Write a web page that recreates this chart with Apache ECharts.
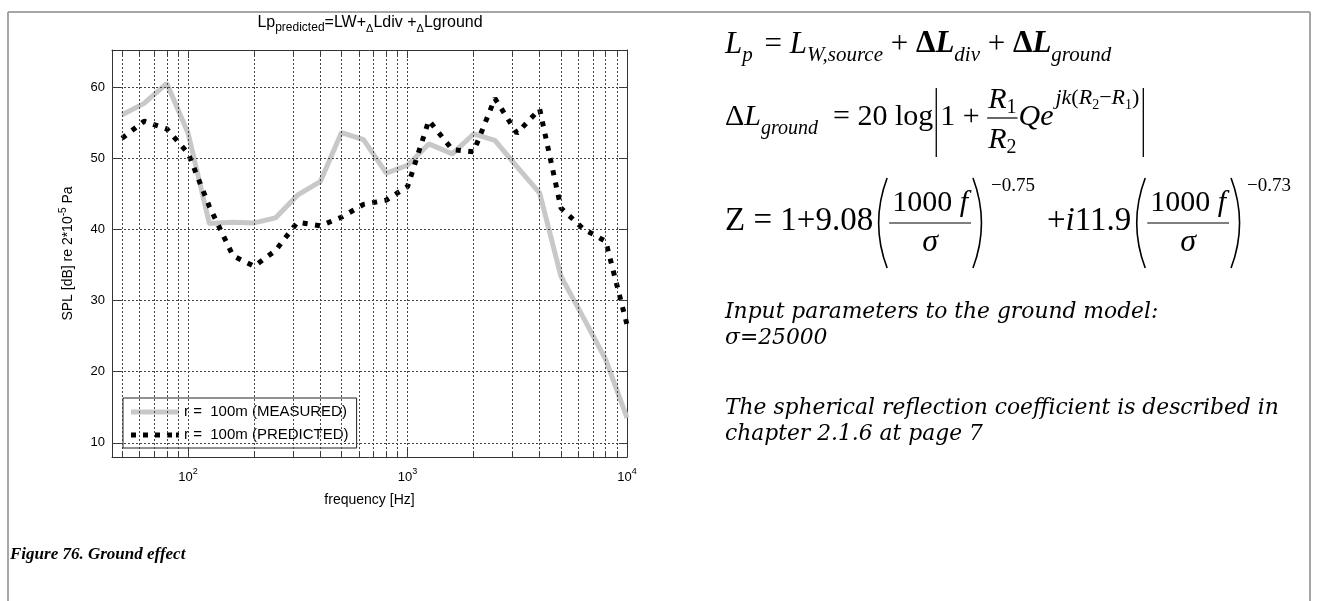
<!DOCTYPE html>
<html><head><meta charset="utf-8">
<script src="https://cdn.jsdelivr.net/npm/echarts@6/dist/echarts.min.js"></script>
<style>html,body{margin:0;padding:0;background:#fff}#c{width:1319px;height:601px}</style>
</head><body><div id="c"></div>
<script>
// ---------- data ----------
const freqs = [50,63,80,100,125,160,200,250,315,400,500,630,800,1000,1250,1600,2000,2500,3150,4000,5000,6300,8000,10000];
const measured = [56.1,57.7,60.5,53.5,40.8,41.0,40.9,41.6,44.8,46.7,53.6,52.6,47.9,49.0,52.0,50.6,53.4,52.5,48.8,45.1,33.4,27.7,21.7,13.5];
const predicted = [52.8,55.2,54.1,50.7,43.2,36.3,34.8,37.0,41.0,40.5,41.7,43.5,44.1,46.0,55.3,51.2,50.9,58.4,53.5,56.9,43.0,40.1,38.3,26.6];
const yTicks = [10,20,30,40,50,60];
const xMajor = [100,1000,10000];
const xMinor = [50,60,70,80,90,200,300,400,500,600,700,800,900,2000,3000,4000,5000,6000,7000,8000,9000];
const nameMeasured = 'r =  100m (MEASURED)';
const namePredicted = 'r =  100m (PREDICTED)';

// ---------- helpers ----------
const SANS = '"Liberation Sans", Arial, Helvetica, sans-serif';
const SERIF = '"Liberation Serif", "Times New Roman", serif';
const DSERIF = '"DejaVu Serif", serif';
const mctx = document.createElement('canvas').getContext('2d');
function fontStr(t){ return (t.it?'italic ':'') + (t.b?'bold ':'') + t.s + 'px ' + (t.fam||SERIF); }
function tw(t){ mctx.font = fontStr(t); return mctx.measureText(t.t).width; }
function widthOf(toks){ let s=0; toks.forEach(t=>{ s += t.gap ? t.gap : tw(t); }); return s; }
function run(x, base, toks, out){
  toks.forEach(t => {
    if (t.gap) { x += t.gap; return; }
    const f = fontStr(t);
    const B = base + (t.dy||0);
    out.push({type:'text', silent:true, style:{text:t.t, x:x, y:B - 0.34*t.s, font:f, fill:'#000',
      textAlign:'left', textVerticalAlign:'middle', align:'left', verticalAlign:'middle'}});
    x += tw(t);
  });
  return x;
}
function hline(x1,y1,x2,y2,out,lw,col){ out.push({type:'line', silent:true, shape:{x1,y1,x2,y2}, style:{stroke:col||'#000', lineWidth:lw||1.2}}); }
function frac(x, num, den, barY, numB, denB, pad, out){
  const wn = widthOf(num), wd = widthOf(den);
  const W = Math.max(wn, wd) + 2*pad;
  run(x + (W-wn)/2, numB, num, out);
  run(x + (W-wd)/2, denB, den, out);
  hline(x, barY, x+W, barY, out, 1.2);
  return x + W;
}
function paren(x, top, bot, open, out){
  const mid = (top+bot)/2;
  if (open) out.push({type:'bezierCurve', silent:true, shape:{x1:x+12, y1:top, x2:x+12, y2:bot, cpx1:x-5, cpy1:mid}, style:{stroke:'#000', lineWidth:1.6, fill:null}});
  else out.push({type:'bezierCurve', silent:true, shape:{x1:x+2, y1:top, x2:x+2, y2:bot, cpx1:x+19, cpy1:mid}, style:{stroke:'#000', lineWidth:1.6, fill:null}});
  return x + 14;
}

// ---------- page graphics ----------
const els = [];
hline(8, 12, 1310, 12, els, 2, '#a6a6a6');
hline(8, 12, 8, 601, els, 2, '#a6a6a6');
hline(1310, 12, 1310, 601, els, 2, '#a6a6a6');

const X0 = 725;
run(X0, 55, [
  {t:'L',it:1,s:31},{t:'p',it:1,s:21,dy:8},{gap:4},{t:' = ',s:31},{t:'L',it:1,s:31},{t:'W,source',it:1,s:21,dy:8},
  {t:' + ',s:31},{t:'Δ',b:1,s:31},{t:'L',b:1,it:1,s:31},{t:'div',it:1,s:21,dy:8},
  {t:' + ',s:31},{t:'Δ',b:1,s:31},{t:'L',b:1,it:1,s:31},{t:'ground',it:1,s:21,dy:8}
], els);

const S1 = 30, s1 = 20;
let x = run(X0, 127, [{t:'Δ',s:S1},{t:'L',it:1,s:S1},{t:'ground',it:1,s:s1,dy:9},{t:'  = 20 log',s:S1}], els);
x += 3; hline(x, 88, x, 157, els, 1.3); x += 4;
x = run(x, 127, [{t:'1 + ',s:S1}], els);
x = frac(x, [{t:'R',it:1,s:S1},{t:'1',s:s1,dy:5}], [{t:'R',it:1,s:S1},{t:'2',s:s1,dy:5}], 118, 110, 150, 1, els);
x = run(x+1, 127, [{t:'Qe',it:1,s:S1}], els);
x = run(x+2, 106, [{t:'jk',it:1,s:22},{t:'(',s:22},{t:'R',it:1,s:22},{t:'2',s:14,dy:4},{t:'−',s:22},{t:'R',it:1,s:22},{t:'1',s:14,dy:4},{t:')',s:22}], els);
x += 4; hline(x, 88, x, 157, els, 1.3);

x = run(X0, 233, [{t:'Z = 1+9.08',s:33}], els);
x = paren(x+2, 178, 268, true, els);
x = frac(x, [{t:'1000',s:30},{t:' f',it:1,s:30}], [{t:'σ',it:1,s:32}], 223, 213, 253, 3, els);
x = paren(x, 178, 268, false, els);
x = run(x+6, 192, [{t:'−0.75',s:19}], els);
x = run(x+12, 233, [{t:'+',s:33},{t:'i',it:1,s:33},{t:'11.9',s:33}], els);
x = paren(x+2, 178, 268, true, els);
x = frac(x, [{t:'1000',s:30},{t:' f',it:1,s:30}], [{t:'σ',it:1,s:32}], 223, 213, 253, 3, els);
x = paren(x, 178, 268, false, els);
run(x+4, 192, [{t:'−0.73',s:19}], els);

// paragraph font size chosen so that the lines span the same width as in the source page
mctx.font = 'italic 100px ' + DSERIF;
const TS = Math.round(100 * (1088 - X0) / mctx.measureText('The spherical reflection coefficie').width * 10) / 10;
run(X0, 320, [{t:'Input parameters to the ground model:',it:1,s:TS,fam:DSERIF}], els);
run(X0, 346, [{t:'σ=25000',it:1,s:TS,fam:DSERIF}], els);
run(X0, 416, [{t:'The spherical reflection coefficient is described in',it:1,s:TS,fam:DSERIF}], els);
run(X0, 442, [{t:'chapter 2.1.6 at page 7',it:1,s:TS,fam:DSERIF}], els);
run(10, 560, [{t:'Figure 76. Ground effect',it:1,b:1,s:17}], els);

// ---------- chart ----------
const chart = echarts.init(document.getElementById('c'), null, {renderer:'canvas'});
const axisCol = '#333';
const xBase = {type:'log', logBase:10, min:45, max:10000, gridIndex:0, splitLine:{show:false}};
const yBase = {type:'value', min:8, max:65.2, gridIndex:0, splitLine:{show:false}};
const option = {
  animation:false,
  backgroundColor:'#fff',
  textStyle:{fontFamily:SANS},
  title:{
    text:'{a|Lp}{s|predicted}{a|=LW+}{d|Δ}{a|Ldiv +}{d|Δ}{a|Lground}',
    left:370, top:12, padding:0, textAlign:'center',
    textStyle:{fontWeight:'normal', rich:{
      a:{fontFamily:SANS, fontSize:16, fontWeight:'normal', lineHeight:22, color:'#000'},
      s:{fontFamily:SANS, fontSize:12, fontWeight:'normal', lineHeight:12, verticalAlign:'bottom', color:'#000'},
      d:{fontFamily:SANS, fontSize:11, fontWeight:'normal', lineHeight:15, verticalAlign:'bottom', color:'#000'}
    }}
  },
  grid:{left:112, top:50, width:515, height:407, containLabel:false},
  legend:{
    data:[
      {name:nameMeasured, icon:'path://M0,0H48V5H0Z'},
      {name:namePredicted, icon:'path://M0,0h5v5h-5zM12,0h5v5h-5zM24,0h5v5h-5zM36,0h5v5h-5zM45,0h3v5h-3z'}
    ],
    orient:'vertical', left:123, top:398,
    backgroundColor:'#fff', borderColor:'#222', borderWidth:1, borderRadius:0,
    padding:[5,8,4,8], itemGap:5, itemWidth:48, itemHeight:18,
    selectedMode:false,
    textStyle:{fontFamily:SANS, fontSize:15, color:'#000', lineHeight:18}
  },
  xAxis:[
    Object.assign({}, xBase, {position:'bottom',
      axisLine:{show:true, onZero:false, lineStyle:{color:axisCol, width:1}},
      axisTick:{show:true, inside:true, length:8, customValues:xMajor, lineStyle:{color:axisCol}},
      axisLabel:{show:true, customValues:xMajor, margin:10,
        formatter:v => '{a|10}{s|' + Math.round(Math.log10(v)) + '}',
        rich:{a:{fontFamily:SANS, fontSize:13, lineHeight:20, color:'#000'},
              s:{fontFamily:SANS, fontSize:9, lineHeight:9, verticalAlign:'top', color:'#000'}}},
      name:'frequency [Hz]', nameLocation:'middle', nameGap:36,
      nameTextStyle:{fontFamily:SANS, fontSize:14, color:'#000'}}),
    Object.assign({}, xBase, {position:'bottom', axisLine:{show:false},
      axisTick:{show:true, inside:true, length:5, customValues:xMinor, lineStyle:{color:axisCol}},
      axisLabel:{show:false}}),
    Object.assign({}, xBase, {position:'top',
      axisLine:{show:true, onZero:false, lineStyle:{color:axisCol, width:1}},
      axisTick:{show:true, inside:true, length:8, customValues:xMajor, lineStyle:{color:axisCol}},
      axisLabel:{show:false}}),
    Object.assign({}, xBase, {position:'top', axisLine:{show:false},
      axisTick:{show:true, inside:true, length:5, customValues:xMinor, lineStyle:{color:axisCol}},
      axisLabel:{show:false}})
  ],
  yAxis:[
    Object.assign({}, yBase, {position:'left',
      axisLine:{show:true, onZero:false, lineStyle:{color:axisCol, width:1}},
      axisTick:{show:true, inside:true, length:8, customValues:yTicks, lineStyle:{color:axisCol}},
      axisLabel:{show:true, customValues:yTicks, margin:7, fontFamily:SANS, fontSize:13, color:'#000'},
      name:'{a|SPL [dB] re 2*10}{s|-5}{a| Pa}', nameLocation:'middle', nameGap:34,
      nameTextStyle:{rich:{a:{fontFamily:SANS, fontSize:14, lineHeight:20, color:'#000'},
                           s:{fontFamily:SANS, fontSize:10, lineHeight:10, verticalAlign:'top', color:'#000'}}}}),
    Object.assign({}, yBase, {position:'right',
      axisLine:{show:true, onZero:false, lineStyle:{color:axisCol, width:1}},
      axisTick:{show:true, inside:true, length:8, customValues:yTicks, lineStyle:{color:axisCol}},
      axisLabel:{show:false}})
  ],
  series:[
    {type:'line', name:'grid', data:[], silent:true, z:1, xAxisIndex:0, yAxisIndex:0,
      markLine:{silent:true, symbol:['none','none'], label:{show:false}, animation:false,
        lineStyle:{color:'#444', type:[2,2], width:1},
        emphasis:{disabled:true},
        data: xMinor.concat([100,1000]).map(v=>({xAxis:v})).concat(yTicks.map(v=>({yAxis:v})))}},
    {type:'line', name:nameMeasured, xAxisIndex:0, yAxisIndex:0, z:3,
      data:freqs.map((f,i)=>[f, measured[i]]), symbol:'none', showSymbol:false,
      lineStyle:{color:'#c8c8c8', width:5}, itemStyle:{color:'#c8c8c8'}},
    {type:'line', name:namePredicted, xAxisIndex:0, yAxisIndex:0, z:4,
      data:freqs.map((f,i)=>[f, predicted[i]]), symbol:'none', showSymbol:false,
      lineStyle:{color:'#000', width:5, type:[5,7.5], cap:'butt'}, itemStyle:{color:'#000'}}
  ],
  graphic:{elements:els}
};
chart.setOption(option);
</script></body></html>
